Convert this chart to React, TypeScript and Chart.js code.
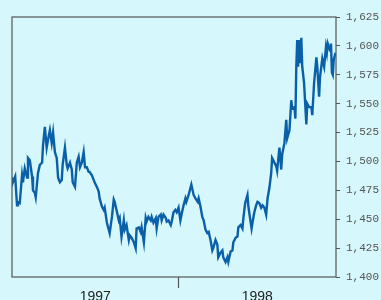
import React, { useEffect, useRef } from "react";
import { Chart, registerables } from "chart.js";

Chart.register(...registerables);

// Day offsets from 1 Jan 1997 for each observation
const days = [
  0, 2, 7, 11, 13, 17, 22, 24, 28, 33, 35, 39, 44, 46, 50, 52, 57, 61, 66, 68,
  72, 76, 79, 83, 87, 90, 94, 98, 101, 105, 109, 111, 116, 120, 122, 127, 131, 133, 138, 142,
  146, 149, 153, 157, 160, 164, 168, 170, 175, 179, 181, 186, 190, 192, 197, 201, 203, 208, 212, 214,
  219, 223, 225, 229, 234, 236, 240, 245, 247, 251, 256, 258, 262, 267, 271, 273, 278, 282, 284, 289,
  293, 295, 299, 304, 306, 310, 315, 317, 321, 326, 328, 332, 337, 339, 343, 348, 350, 354, 358, 361,
  365, 369, 372, 376, 380, 382, 387, 391, 393, 398, 402, 407, 409, 413, 417, 420, 424, 428, 431, 435,
  439, 441, 446, 450, 452, 457, 461, 463, 468, 472, 474, 479, 483, 485, 490, 494, 496, 501, 505, 507,
  511, 516, 518, 522, 525, 527, 531, 535, 538, 542, 546, 549, 553, 557, 560, 564, 568, 570, 575, 579,
  581, 586, 590, 592, 597, 601, 603, 608, 612, 614, 619, 621, 623, 625, 627, 629, 632, 634, 636, 640,
  645, 647, 651, 656, 658, 662, 667, 669, 673, 675, 680, 684, 688, 690, 692, 697, 699, 701, 703, 705,
  709,
];

const values = [
  1486, 1482, 1487, 1462, 1465, 1464, 1488, 1482, 1494, 1486, 1503, 1501, 1487, 1475, 1473, 1469, 1490, 1497, 1499, 1514,
  1530, 1512, 1519, 1527, 1516, 1525, 1508, 1503, 1486, 1482, 1484, 1497, 1512, 1497, 1494, 1499, 1493, 1482, 1478, 1499,
  1504, 1495, 1499, 1508, 1495, 1495, 1491, 1491, 1488, 1484, 1482, 1478, 1474, 1468, 1461, 1458, 1460, 1447, 1441, 1438,
  1452, 1467, 1465, 1458, 1449, 1451, 1435, 1449, 1441, 1445, 1432, 1436, 1434, 1430, 1425, 1442, 1443, 1439, 1443, 1430,
  1451, 1448, 1452, 1449, 1452, 1447, 1451, 1442, 1452, 1454, 1449, 1454, 1451, 1448, 1449, 1445, 1448, 1456, 1458, 1456,
  1460, 1449, 1455, 1462, 1468, 1465, 1471, 1477, 1480, 1471, 1468, 1465, 1468, 1461, 1452, 1449, 1441, 1438, 1439, 1432,
  1423, 1425, 1432, 1428, 1417, 1421, 1423, 1417, 1413, 1417, 1413, 1422, 1423, 1430, 1434, 1435, 1443, 1445, 1442, 1451,
  1464, 1471, 1461, 1450, 1442, 1447, 1456, 1462, 1465, 1464, 1460, 1462, 1460, 1454, 1468, 1477, 1490, 1503, 1499, 1496,
  1492, 1512, 1493, 1506, 1516, 1536, 1520, 1527, 1553, 1546, 1547, 1537, 1582, 1605, 1582, 1605, 1585, 1607, 1582, 1568,
  1532, 1550, 1547, 1547, 1540, 1568, 1590, 1582, 1556, 1573, 1589, 1582, 1599, 1594, 1602, 1596, 1602, 1577, 1575, 1588,
  1594,
];

const yearLabels = ["1997", "1998"];
const yearBoundary = 365;
const spanEnd = 710;
const yMin = 1400;
const yMax = 1625;
const yStep = 25;

const framePlugin = {
  id: "frame",
  afterDatasetsDraw(chart: any) {
    const { ctx, chartArea } = chart;
    ctx.save();
    ctx.strokeStyle = "#555";
    ctx.lineWidth = 1.2;
    ctx.strokeRect(chartArea.left, chartArea.top, chartArea.right - chartArea.left, chartArea.bottom - chartArea.top);
    ctx.restore();
  },
};

export default function App() {
  const ref = useRef<HTMLCanvasElement | null>(null);

  useEffect(() => {
    if (!ref.current) return;
    const labelPos = [yearBoundary / 2, (yearBoundary + spanEnd) / 2];
    const chart = new Chart(ref.current, {
      type: "line",
      data: {
        datasets: [
          {
            data: days.map((d, i) => ({ x: d, y: values[i] })),
            borderColor: "#0a5fa9",
            borderWidth: 2.4,
            pointRadius: 0,
            tension: 0,
            fill: false,
          },
        ],
      },
      options: {
        animation: false,
        responsive: false,
        maintainAspectRatio: false,
        layout: { padding: { left: 12, top: 17, right: 0, bottom: 0 } },
        plugins: { legend: { display: false }, tooltip: { enabled: false } },
        scales: {
          x: {
            type: "linear",
            min: 0,
            max: spanEnd,
            afterBuildTicks: (scale: any) => {
              scale.ticks = [
                { value: labelPos[0] },
                { value: yearBoundary },
                { value: labelPos[1] },
              ];
            },
            afterFit: (scale: any) => {
              scale.height = 23;
            },
            ticks: {
              autoSkip: false,
              maxRotation: 0,
              padding: 1,
              color: "#222",
              font: { family: "'Liberation Sans', Arial, sans-serif", size: 14 },
              callback: (v: any) => {
                if (v === labelPos[0]) return yearLabels[0];
                if (v === labelPos[1]) return yearLabels[1];
                return "";
              },
            },
            grid: {
              drawOnChartArea: false,
              drawTicks: true,
              tickLength: 11,
              tickWidth: 1.2,
              tickColor: (c: any) => (c.tick && c.tick.value === yearBoundary ? "#555" : "rgba(0,0,0,0)"),
            },
            border: { display: false },
          },
          y: {
            position: "right",
            min: yMin,
            max: yMax,
            afterFit: (scale: any) => {
              scale.width = 45;
            },
            ticks: {
              stepSize: yStep,
              padding: 6,
              color: "#555",
              font: { family: "'Liberation Mono', monospace", size: 11 },
              callback: (v: any) => Number(v).toLocaleString("en-US"),
            },
            grid: {
              drawOnChartArea: false,
              drawTicks: true,
              tickLength: 4,
              tickWidth: 1,
              tickColor: "#555",
            },
            border: { display: false },
          },
        },
      },
      plugins: [framePlugin],
    });
    return () => chart.destroy();
  }, []);

  return (
    <div
      style={{
        position: "fixed",
        left: 0,
        top: 0,
        width: 381,
        height: 300,
        background: "#d6f7fb",
      }}
    >
      <canvas ref={ref} width={381} height={300} style={{ width: 381, height: 300, display: "block" }} />
    </div>
  );
}
